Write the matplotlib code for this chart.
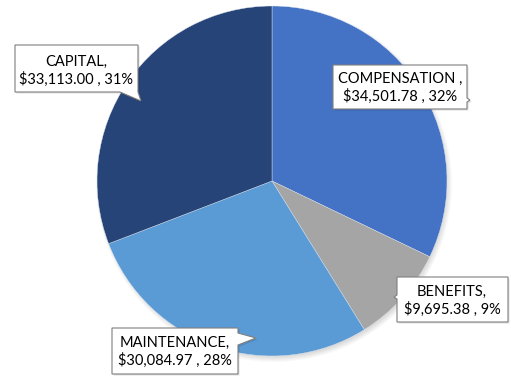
import matplotlib
matplotlib.use("Agg")
import matplotlib.pyplot as plt
from matplotlib.patches import Polygon, Circle

categories = ["COMPENSATION", "BENEFITS", "MAINTENANCE", "CAPITAL"]
values = [34501.78, 9695.38, 30084.97, 33113.00]
colors = ["#4472C4", "#A5A5A5", "#5B9BD5", "#264478"]
separators = [" ,", ",", ",", ","]

W, H = 511, 379
fig = plt.figure(figsize=(W / 100, H / 100), dpi=100)
ax = fig.add_axes([0, 0, 1, 1])

cx, cy, r = 272, H - 181, 175

# soft drop shadow under the pie
for i in range(6):
    ax.add_patch(Circle((cx + 2, cy - 3), r + 3 - i, color="black",
                        alpha=0.025, lw=0, zorder=0))

ax.pie(values, colors=colors, startangle=90, counterclock=False,
       center=(cx, cy), radius=r, frame=True,
       wedgeprops=dict(linewidth=0.3, edgecolor="#DDE3EE"))
ax.set_xlim(0, W)
ax.set_ylim(0, H)
ax.set_aspect("equal")
ax.axis("off")

total = sum(values)

def label_text(i):
    pct = round(values[i] / total * 100)
    return f"{categories[i]}{separators[i]}\n${values[i]:,.2f} , {pct}%"

# callout boxes: outline in pixel coordinates (top-left origin)
callouts = {
    "CAPITAL": dict(poly=[(15, 45), (138, 45), (138, 92), (141, 101),
                          (120, 92), (15, 92)], center=(76, 71)),
    "COMPENSATION": dict(poly=[(333, 65), (467, 65), (467, 98), (470, 100),
                               (467, 102), (467, 109), (333, 109)],
                         center=(400, 88)),
    "BENEFITS": dict(poly=[(397, 277), (508, 277), (508, 322), (397, 322),
                           (397, 299), (394, 297), (397, 295)],
                     center=(452, 301)),
    "MAINTENANCE": dict(poly=[(112, 328), (238, 328), (238, 333), (256, 338),
                              (238, 345), (238, 374), (112, 374)],
                        center=(175, 352)),
}

for i, name in enumerate(categories):
    c = callouts[name]
    pts = [(x, H - y) for x, y in c["poly"]]
    # faint shadow behind the box
    ax.add_patch(Polygon([(x + 1.5, y - 1.5) for x, y in pts], closed=True,
                         facecolor="black", alpha=0.12, lw=0, zorder=4))
    ax.add_patch(Polygon(pts, closed=True, facecolor="white",
                         edgecolor="#7F7F7F", lw=0.8, zorder=5))
    ax.text(c["center"][0], H - c["center"][1], label_text(i),
            ha="center", va="center", fontsize=10.5, family="Lato",
            color="black", linespacing=1.25, zorder=6)

fig.savefig("out.png", dpi=100)
